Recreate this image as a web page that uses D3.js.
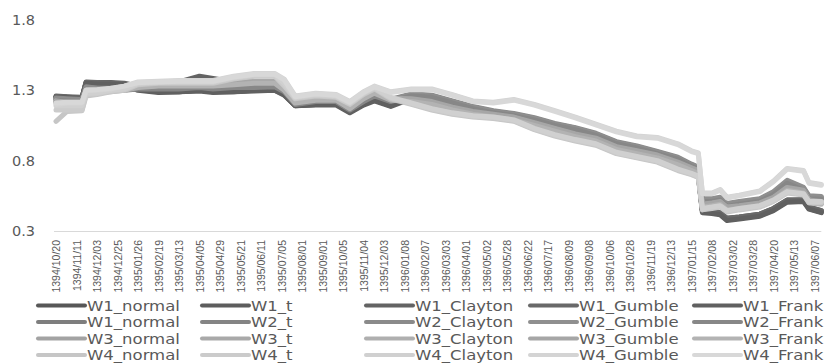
<!DOCTYPE html>
<html>
<head>
<meta charset="utf-8">
<script src="https://cdn.jsdelivr.net/npm/d3@7"></script>
<style>
  html, body { margin: 0; padding: 0; background: #fff; }
  svg { display: block; }
</style>
</head>
<body>
<svg id="chart" width="827" height="363"></svg>
<script>
// Category axis labels (one every 15 trading days)
const tickLabels = [
  "1394/10/20","1394/11/11","1394/12/03","1394/12/25","1395/01/26","1395/02/19",
  "1395/03/13","1395/04/05","1395/04/29","1395/05/21","1395/06/11","1395/07/05",
  "1395/08/01","1395/09/01","1395/10/05","1395/11/04","1395/12/03","1396/01/08",
  "1396/02/07","1396/03/03","1396/04/01","1396/05/02","1396/05/28","1396/06/22",
  "1396/07/17","1396/08/09","1396/09/08","1396/10/06","1396/10/28","1396/11/19",
  "1396/12/13","1397/01/15","1397/02/08","1397/03/02","1397/03/28","1397/04/20",
  "1397/05/13","1397/06/07"
];
const labelEvery = 15;
const lastDay = 560;

// Trading-day index of each sampled value
const sampleDays = [0, 8, 19, 22, 30, 40, 50, 60, 75, 90, 105, 115, 130, 145, 160, 167, 175, 190, 205, 215,
  225, 233, 245, 260, 275, 290, 305, 320, 335, 350, 365, 380, 395, 410, 425, 440, 455, 465, 470, 473,
  480, 486, 491, 500, 515, 525, 535, 547, 551, 560];

const W1_normal = [1.255,1.25,1.245,1.355,1.35, 1.35,1.345,1.31,1.29,1.29, 1.30,1.29,1.29,1.30,1.30, 1.27,1.19,1.20,1.20,1.145,
  1.20,1.23,1.19,1.25,1.24, 1.20,1.16,1.13,1.11,1.08, 1.04,1.00,0.96,0.90,0.87, 0.83,0.77,0.72,0.70,0.44,
  0.43,0.42,0.38,0.39,0.41, 0.45,0.51,0.515,0.46,0.435];
const W1_t = [1.25,1.245,1.24,1.35,1.35, 1.345,1.34,1.30,1.285,1.29, 1.30,1.29,1.295,1.30,1.305, 1.27,1.195,1.20,1.205,1.15,
  1.20,1.235,1.195,1.245,1.235, 1.195,1.155,1.125,1.11,1.075, 1.035,0.995,0.955,0.90,0.865, 0.825,0.77,0.715,0.695,0.445,
  0.435,0.425,0.385,0.395,0.415, 0.455,0.515,0.52,0.465,0.44];
const W1_Clayton = [1.255,1.25,1.245,1.36,1.355, 1.355,1.35,1.33,1.34,1.36, 1.40,1.385,1.36,1.33,1.32, 1.28,1.20,1.21,1.21,1.15,
  1.21,1.24,1.20,1.25,1.245, 1.21,1.17,1.14,1.12,1.09, 1.05,1.01,0.97,0.91,0.88, 0.84,0.78,0.73,0.71,0.45,
  0.44,0.43,0.39,0.40,0.42, 0.46,0.52,0.52,0.47,0.445];
const W1_Gumble = [1.26,1.255,1.25,1.355,1.355, 1.35,1.345,1.31,1.295,1.295, 1.305,1.295,1.30,1.305,1.31, 1.275,1.20,1.205,1.205,1.15,
  1.205,1.235,1.195,1.25,1.24, 1.205,1.165,1.135,1.115,1.085, 1.045,1.005,0.965,0.905,0.875, 0.835,0.775,0.725,0.705,0.45,
  0.44,0.43,0.39,0.40,0.42, 0.46,0.52,0.52,0.47,0.445];
const W1_Frank = [1.25,1.25,1.24,1.35,1.345, 1.345,1.34,1.305,1.29,1.29, 1.295,1.285,1.29,1.295,1.30, 1.265,1.19,1.195,1.195,1.14,
  1.195,1.225,1.185,1.24,1.235, 1.20,1.16,1.13,1.105,1.075, 1.035,0.995,0.955,0.895,0.865, 0.825,0.765,0.715,0.695,0.43,
  0.425,0.415,0.375,0.385,0.405, 0.445,0.505,0.51,0.455,0.43];

const W2_normal = [1.24,1.235,1.23,1.32,1.31, 1.31,1.31,1.32,1.32,1.32, 1.33,1.32,1.33,1.33,1.335, 1.30,1.21,1.23,1.23,1.17,
  1.23,1.27,1.23,1.27,1.26, 1.22,1.18,1.15,1.13,1.10, 1.06,1.03,0.99,0.93,0.90, 0.86,0.82,0.77,0.75,0.52,
  0.52,0.53,0.485,0.50,0.52, 0.57,0.65,0.60,0.54,0.535];
const W2_t = [1.235,1.23,1.225,1.315,1.31, 1.305,1.305,1.315,1.315,1.315, 1.325,1.315,1.325,1.325,1.33, 1.295,1.205,1.225,1.225,1.165,
  1.225,1.265,1.225,1.265,1.255, 1.215,1.175,1.145,1.125,1.095, 1.055,1.025,0.985,0.925,0.895, 0.855,0.815,0.765,0.745,0.515,
  0.515,0.525,0.48,0.495,0.515, 0.565,0.645,0.595,0.535,0.53];
const W2_Clayton = [1.245,1.24,1.235,1.325,1.315, 1.315,1.315,1.325,1.325,1.325, 1.335,1.325,1.335,1.335,1.34, 1.305,1.215,1.235,1.235,1.175,
  1.235,1.275,1.235,1.275,1.265, 1.225,1.185,1.155,1.135,1.105, 1.065,1.035,0.995,0.935,0.905, 0.865,0.825,0.775,0.755,0.525,
  0.525,0.535,0.49,0.505,0.525, 0.575,0.655,0.605,0.545,0.54];
const W2_Gumble = [1.24,1.235,1.23,1.32,1.315, 1.31,1.31,1.32,1.32,1.32, 1.33,1.32,1.33,1.33,1.335, 1.30,1.21,1.23,1.23,1.17,
  1.23,1.27,1.23,1.27,1.26, 1.22,1.18,1.15,1.13,1.10, 1.06,1.03,0.99,0.93,0.90, 0.86,0.82,0.77,0.75,0.53,
  0.53,0.54,0.495,0.51,0.53, 0.58,0.66,0.61,0.55,0.545];
const W2_Frank = [1.23,1.225,1.22,1.31,1.305, 1.30,1.30,1.31,1.31,1.31, 1.32,1.31,1.32,1.32,1.325, 1.29,1.20,1.22,1.22,1.16,
  1.22,1.26,1.22,1.26,1.25, 1.21,1.17,1.14,1.12,1.09, 1.05,1.02,0.98,0.92,0.89, 0.85,0.81,0.76,0.74,0.51,
  0.51,0.52,0.475,0.49,0.51, 0.56,0.64,0.59,0.53,0.525];

const W3_normal = [1.22,1.21,1.21,1.30,1.30, 1.30,1.31,1.33,1.34,1.34, 1.34,1.34,1.35,1.36,1.36, 1.31,1.22,1.24,1.24,1.18,
  1.25,1.29,1.24,1.23,1.21, 1.17,1.14,1.12,1.10,1.06, 1.02,0.98,0.95,0.89,0.86, 0.83,0.78,0.74,0.72,0.48,
  0.49,0.50,0.46,0.47,0.49, 0.53,0.60,0.58,0.51,0.50];
const W3_t = [1.215,1.205,1.205,1.295,1.295, 1.295,1.305,1.325,1.335,1.335, 1.335,1.335,1.345,1.355,1.355, 1.305,1.215,1.235,1.235,1.175,
  1.245,1.285,1.235,1.225,1.205, 1.165,1.135,1.115,1.095,1.055, 1.015,0.975,0.945,0.885,0.855, 0.825,0.775,0.735,0.715,0.475,
  0.485,0.495,0.455,0.465,0.485, 0.525,0.595,0.575,0.505,0.495];
const W3_Clayton = [1.225,1.215,1.215,1.305,1.305, 1.305,1.315,1.335,1.345,1.345, 1.345,1.345,1.355,1.365,1.365, 1.315,1.225,1.245,1.245,1.185,
  1.255,1.295,1.245,1.235,1.215, 1.175,1.145,1.125,1.105,1.065, 1.025,0.985,0.955,0.895,0.865, 0.835,0.785,0.745,0.725,0.485,
  0.495,0.505,0.465,0.475,0.495, 0.535,0.605,0.585,0.515,0.505];
const W3_Gumble = [1.22,1.21,1.21,1.30,1.30, 1.30,1.31,1.33,1.34,1.34, 1.34,1.34,1.35,1.36,1.36, 1.31,1.22,1.24,1.24,1.18,
  1.25,1.29,1.24,1.24,1.22, 1.18,1.15,1.13,1.11,1.07, 1.03,0.99,0.96,0.90,0.87, 0.84,0.79,0.75,0.73,0.49,
  0.50,0.51,0.47,0.48,0.50, 0.54,0.61,0.59,0.52,0.51];
const W3_Frank = [1.21,1.20,1.20,1.29,1.29, 1.29,1.30,1.32,1.33,1.33, 1.33,1.33,1.34,1.35,1.35, 1.30,1.21,1.23,1.23,1.17,
  1.24,1.28,1.23,1.22,1.20, 1.16,1.13,1.11,1.09,1.05, 1.01,0.97,0.94,0.88,0.85, 0.82,0.77,0.73,0.71,0.47,
  0.48,0.49,0.45,0.46,0.48, 0.52,0.59,0.57,0.50,0.49];

const W4_normal = [1.08,1.15,1.155,1.26,1.27, 1.29,1.30,1.34,1.35,1.35, 1.35,1.35,1.38,1.40,1.40, 1.33,1.24,1.26,1.25,1.20,
  1.27,1.31,1.24,1.20,1.16, 1.13,1.11,1.10,1.08,1.02, 0.975,0.94,0.91,0.85,0.82, 0.79,0.73,0.70,0.68,0.45,
  0.46,0.47,0.435,0.45,0.47, 0.51,0.57,0.555,0.50,0.50];
const W4_t = [1.16,1.16,1.16,1.27,1.275, 1.295,1.305,1.345,1.355,1.355, 1.355,1.355,1.385,1.405,1.405, 1.335,1.245,1.265,1.255,1.205,
  1.275,1.315,1.245,1.205,1.165, 1.135,1.115,1.105,1.085,1.025, 0.98,0.945,0.915,0.855,0.825, 0.795,0.735,0.705,0.685,0.455,
  0.465,0.475,0.44,0.455,0.475, 0.515,0.575,0.56,0.505,0.505];
const W4_Clayton = [1.19,1.19,1.19,1.28,1.28, 1.30,1.31,1.35,1.36,1.36, 1.36,1.36,1.39,1.41,1.41, 1.35,1.25,1.27,1.26,1.21,
  1.28,1.32,1.25,1.21,1.17, 1.14,1.12,1.11,1.09,1.03, 0.985,0.95,0.92,0.86,0.83, 0.80,0.74,0.71,0.69,0.46,
  0.47,0.48,0.445,0.46,0.48, 0.52,0.58,0.565,0.51,0.51];
const W4_Gumble = [1.20,1.21,1.21,1.30,1.30, 1.31,1.33,1.36,1.365,1.37, 1.37,1.37,1.40,1.42,1.42, 1.38,1.26,1.28,1.27,1.22,
  1.29,1.33,1.29,1.31,1.31, 1.27,1.225,1.215,1.235,1.20, 1.155,1.11,1.06,1.01,0.975, 0.965,0.92,0.87,0.855,0.57,
  0.57,0.595,0.54,0.555,0.585, 0.655,0.745,0.73,0.645,0.63];
const W4_Frank = [1.21,1.215,1.215,1.30,1.305, 1.315,1.33,1.355,1.36,1.365, 1.365,1.365,1.395,1.415,1.415, 1.375,1.255,1.275,1.265,1.215,
  1.285,1.325,1.285,1.305,1.305, 1.265,1.22,1.21,1.23,1.195, 1.15,1.105,1.055,1.005,0.97, 0.96,0.915,0.865,0.85,0.565,
  0.565,0.59,0.535,0.55,0.58, 0.65,0.74,0.725,0.64,0.625];

// Legend text, row by row, as printed on the chart
const legendLabels = [
  "W1_normal","W1_t","W1_Clayton","W1_Gumble","W1_Frank",
  "W1_normal","W2_t","W2_Clayton","W2_Gumble","W2_Frank",
  "W3_normal","W3_t","W3_Clayton","W3_Gumble","W3_Frank",
  "W4_normal","W4_t","W4_Clayton","W4_Gumble","W4_Frank"
];
const seriesValues = [
  W1_normal, W1_t, W1_Clayton, W1_Gumble, W1_Frank,
  W2_normal, W2_t, W2_Clayton, W2_Gumble, W2_Frank,
  W3_normal, W3_t, W3_Clayton, W3_Gumble, W3_Frank,
  W4_normal, W4_t, W4_Clayton, W4_Gumble, W4_Frank
];
const seriesColors = [
  "#575757","#5d5d5d","#636363","#696969","#606060",
  "#7e7e7e","#848484","#8a8a8a","#8f8f8f","#878787",
  "#a3a3a3","#a9a9a9","#afafaf","#a6a6a6","#b3b3b3",
  "#c6c6c6","#cbcbcb","#d0d0d0","#d4d4d4","#d8d8d8"
];
const yTicks = [0.3, 0.8, 1.3, 1.8];

const svg = d3.select("#chart");
const textColor = "#595959";

const x = d3.scaleLinear().domain([0, lastDay]).range([56, 821.3]);
const y = d3.scaleLinear().domain([0.3, 1.8]).range([231, 20]);

// Category axis along the bottom, labels rotated
const xAxis = d3.axisBottom(x)
  .tickValues(tickLabels.map((_, i) => i * labelEvery))
  .tickFormat((d, i) => tickLabels[i])
  .tickSize(0)
  .tickSizeOuter(0);

const gx = svg.append("g").attr("transform", "translate(0,231)").call(xAxis);
gx.select(".domain").attr("stroke", "#d9d9d9").attr("stroke-width", 1.2)
  .attr("d", `M${x(0) - 2},0.5H${x(lastDay)}`);
gx.selectAll("text")
  .attr("transform", "rotate(-90)")
  .attr("text-anchor", "end")
  .attr("x", -9)
  .attr("y", 0)
  .attr("dy", "0.36em")
  .attr("fill", textColor)
  .style("font-family", "'Liberation Sans', Arial, sans-serif")
  .style("font-size", "10.5px");

// Value axis: labels only
const yAxis = d3.axisLeft(y).tickValues(yTicks).tickFormat(d3.format(".1f")).tickSize(0).tickPadding(0);
const gy = svg.append("g").attr("transform", "translate(35,0)").call(yAxis);
gy.select(".domain").remove();
gy.selectAll("text")
  .attr("fill", textColor)
  .style("font-family", "'DejaVu Sans', Verdana, sans-serif")
  .style("font-size", "14.5px");

// Series lines, W1 first so the lighter groups sit on top
const line = d3.line()
  .x((d, i) => x(sampleDays[i]))
  .y(d => y(d));

svg.append("g").selectAll("path")
  .data(seriesValues)
  .join("path")
  .attr("d", d => line(d))
  .attr("fill", "none")
  .attr("stroke", (d, i) => seriesColors[i])
  .attr("stroke-width", 5)
  .attr("stroke-linejoin", "round")
  .attr("stroke-linecap", "round");

// Legend: 5 columns x 4 rows
const colX = [38, 202, 366, 530, 694];
const rowY = [305.5, 322, 338.5, 355];
const legend = svg.append("g").selectAll("g")
  .data(legendLabels)
  .join("g")
  .attr("transform", (d, i) => `translate(${colX[i % 5]},${rowY[Math.floor(i / 5)]})`);

legend.append("line")
  .attr("x1", 0).attr("x2", 47)
  .attr("y1", 0).attr("y2", 0)
  .attr("stroke", (d, i) => seriesColors[i])
  .attr("stroke-width", 4)
  .attr("stroke-linecap", "round");

// Legend text is set wide, so glyphs are stretched horizontally
legend.append("text")
  .attr("transform", "translate(49,0) scale(1.18,1)")
  .attr("dy", "0.36em")
  .attr("fill", textColor)
  .style("font-family", "'DejaVu Sans', Verdana, sans-serif")
  .style("font-size", "14px")
  .text(d => d);
</script>
</body>
</html>
